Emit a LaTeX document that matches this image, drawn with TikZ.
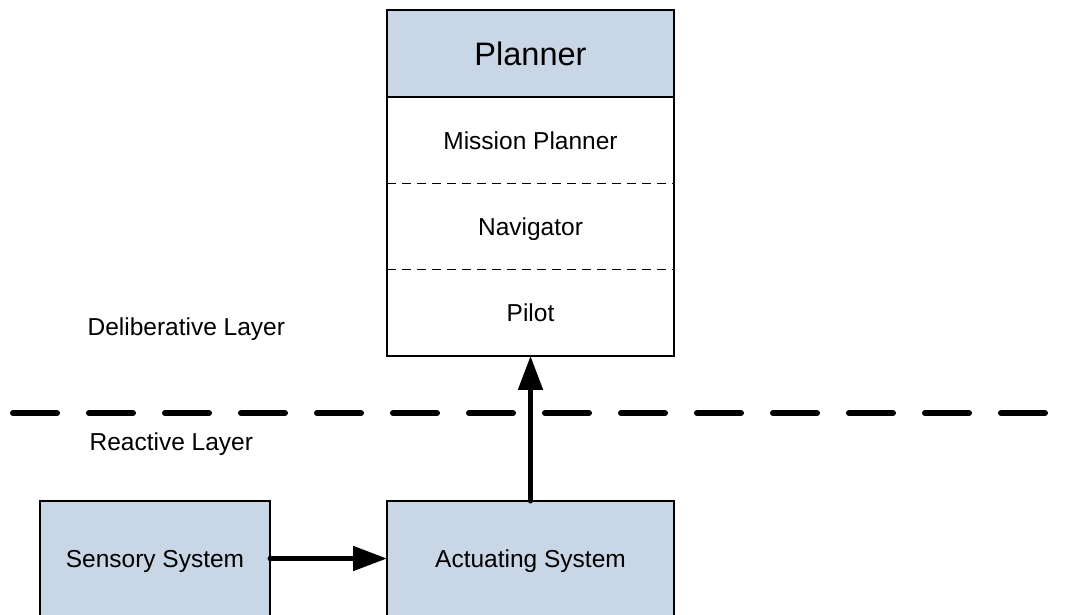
\documentclass[tikz,border=0pt]{standalone}
\usepackage{fontspec}
\setmainfont{Liberation Sans}
\usetikzlibrary{arrows.meta,positioning}
\definecolor{boxblue}{RGB}{201,214,229}
\newcommand\W{287}

\begin{document}
\begin{tikzpicture}[x=1pt,y=-1pt,>={Triangle[length=34pt,width=24pt]},
                    line width=1.2pt]

  \tikzstyle{every node}=[font=\fontsize{24.5}{28}\selectfont,text depth=0pt]
  \tikzstyle{block}=[rectangle,draw,fill=boxblue,inner sep=0pt,outer sep=0pt]
  \tikzstyle{row}=[rectangle,inner sep=0pt,outer sep=0pt,
                   minimum width=\W pt,minimum height=86.3pt]
  \tikzstyle{flow}=[->,line width=5pt,line cap=round]

  \clip (0,0) rectangle (1073,614);

  % planner stack
  \node[block,minimum width=\W pt,minimum height=87pt,
        font=\fontsize{32.5}{36}\selectfont] (PLN) at (530.5,53.5) {Planner};
  \node[row,below=0pt of PLN] (MIS) {Mission Planner};
  \node[row,below=0pt of MIS] (NAV) {Navigator};
  \node[row,below=0pt of NAV] (PIL) {Pilot};
  \draw (MIS.north west) rectangle (PIL.south east);
  \draw[dashed,line width=1pt,dash pattern=on 9pt off 6pt]
    (MIS.south west) -- (MIS.south east)
    (NAV.south west) -- (NAV.south east);

  % layer split
  \node[anchor=west,inner sep=0pt] (DEL) at (87,327) {Deliberative Layer};
  \node[anchor=west,inner sep=0pt] (REA) at (89,442) {Reactive Layer};
  \coordinate (SL) at (13,413);
  \coordinate (SR) at (1046,413);
  \draw[line width=6pt,line cap=round,dash pattern=on 44pt off 32pt] (SL) -- (SR);

  \node[block,minimum width=230pt,minimum height=115pt] (SEN) at (155,558.5) {Sensory System};
  \node[block,minimum width=\W pt,minimum height=115pt] (ACT) at (530.5,558.5) {Actuating System};

\path
(SEN) edge [flow] (ACT)
(ACT) edge [flow] (PIL)
;
\end{tikzpicture}
\end{document}
